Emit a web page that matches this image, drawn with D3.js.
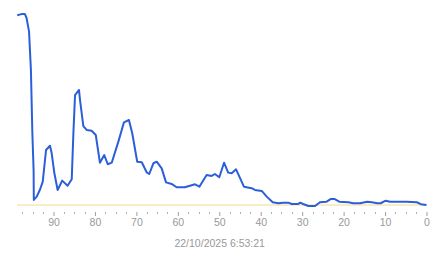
<!DOCTYPE html>
<html lang="en">
<head>
<meta charset="UTF-8">
<title>Line chart</title>
<script src="https://d3js.org/d3.v7.min.js"></script>
<style>
  body { margin: 0; background: #fff; }
  text { font-family: "Liberation Sans", Arial, sans-serif; }
</style>
</head>
<body>
<svg width="443" height="258"></svg>
<script>
// traced points: position on the reversed axis and value
const xs = [98.75, 97.7, 96.9, 96.5, 95.9, 95.45, 95.1, 94.8, 94.75, 94.05, 93.3, 92.6, 91.8, 90.85, 90.45, 89.8,
  89.0, 87.9, 86.6, 85.6, 85.2, 84.8, 83.85, 83.6, 82.8, 82.0, 80.8, 79.8, 78.8, 77.75, 76.9, 75.95,
  74.35, 73.0, 71.8, 71.0, 69.8, 68.7, 67.5, 66.9, 65.9, 65.1, 63.9, 62.85, 61.5, 60.3, 58.3, 55.85,
  54.8, 53.05, 51.85, 51.05, 50.0, 48.85, 47.85, 47.0, 45.95, 44.05, 42.2, 41.4, 39.75, 38.55, 37.1, 35.75,
  34.55, 33.35, 32.5, 30.95, 30.5, 29.75, 28.5, 26.9, 25.7, 24.1, 23.05, 22.25, 21.05, 18.85, 17.65, 16.05,
  14.3, 13.2, 11.85, 11.05, 9.85, 8.8, 4.8, 2.35, 1.35, 0];
const values = [97.3, 97.9, 97.9, 95.9, 88.9, 69.2, 36.9, 17.9, 2.6, 4.3, 7.7, 11.9, 28.2, 30.4, 26.7, 16.4,
  7.7, 12.5, 9.9, 13.2, 36.9, 56.4, 59.0, 53.8, 40.5, 38.5, 38.1, 35.9, 21.7, 25.6, 20.9, 21.7,
  32.5, 42.4, 43.6, 36.8, 22.2, 21.9, 16.7, 15.9, 21.4, 22.2, 18.8, 11.6, 10.8, 9.1, 9.1, 10.6,
  9.4, 15.4, 14.9, 15.9, 14.2, 21.7, 16.6, 16.3, 18.3, 9.4, 8.6, 7.7, 7.2, 4.3, 1.4, 0.9,
  1.2, 1.2, 0.5, 0.5, 1.2, 0.5, -0.5, -0.5, 1.4, 1.7, 3.1, 3.1, 1.7, 1.4, 0.9, 0.9,
  1.7, 1.4, 0.9, 0.9, 2.2, 1.7, 1.7, 1.4, 0.4, 0];
const majorTicks = [90, 80, 70, 60, 50, 40, 30, 20, 10, 0];
const minorTicks = d3.range(0, 98, 2.5);
const title = "22/10/2025 6:53:21";

const svg = d3.select("svg");
const x = d3.scaleLinear().domain([0, 90]).range([426.5, 53.5]);
const y = d3.scaleLinear().domain([0, 100]).range([205, 10]);

// baseline
svg.append("line")
  .attr("x1", x(98.8)).attr("x2", x(0))
  .attr("y1", y(0)).attr("y2", y(0))
  .attr("stroke", "#f2d98c").attr("stroke-width", 1);

// minor ticks
svg.selectAll(".minor")
  .data(minorTicks.filter(t => t % 10 !== 0))
  .enter().append("line")
  .attr("x1", d => Math.round(x(d)) + 0.5).attr("x2", d => Math.round(x(d)) + 0.5)
  .attr("y1", 212).attr("y2", 214)
  .attr("stroke", "#b0b0b0");

const xAxis = d3.axisBottom(x).tickValues(majorTicks).tickSize(4).tickPadding(3);
const gx = svg.append("g").attr("transform", "translate(0,212)").call(xAxis);
gx.select(".domain").remove();
gx.selectAll(".tick line").attr("stroke", "#a0a0a0");
gx.selectAll(".tick text")
  .attr("fill", "#999")
  .style("font-size", "10.5px")
  .style("font-family", "Liberation Sans, Arial, sans-serif");

const line = d3.line().x((d, i) => x(xs[i])).y(d => y(d));
svg.append("path")
  .datum(values)
  .attr("d", line)
  .attr("fill", "none")
  .attr("stroke", "#2b5fd9")
  .attr("stroke-width", 2)
  .attr("stroke-linejoin", "round");

svg.append("text")
  .attr("x", 219.7).attr("y", 246.5)
  .attr("text-anchor", "middle")
  .attr("fill", "#999")
  .style("font-size", "10.5px")
  .text(title);
</script>
</body>
</html>
